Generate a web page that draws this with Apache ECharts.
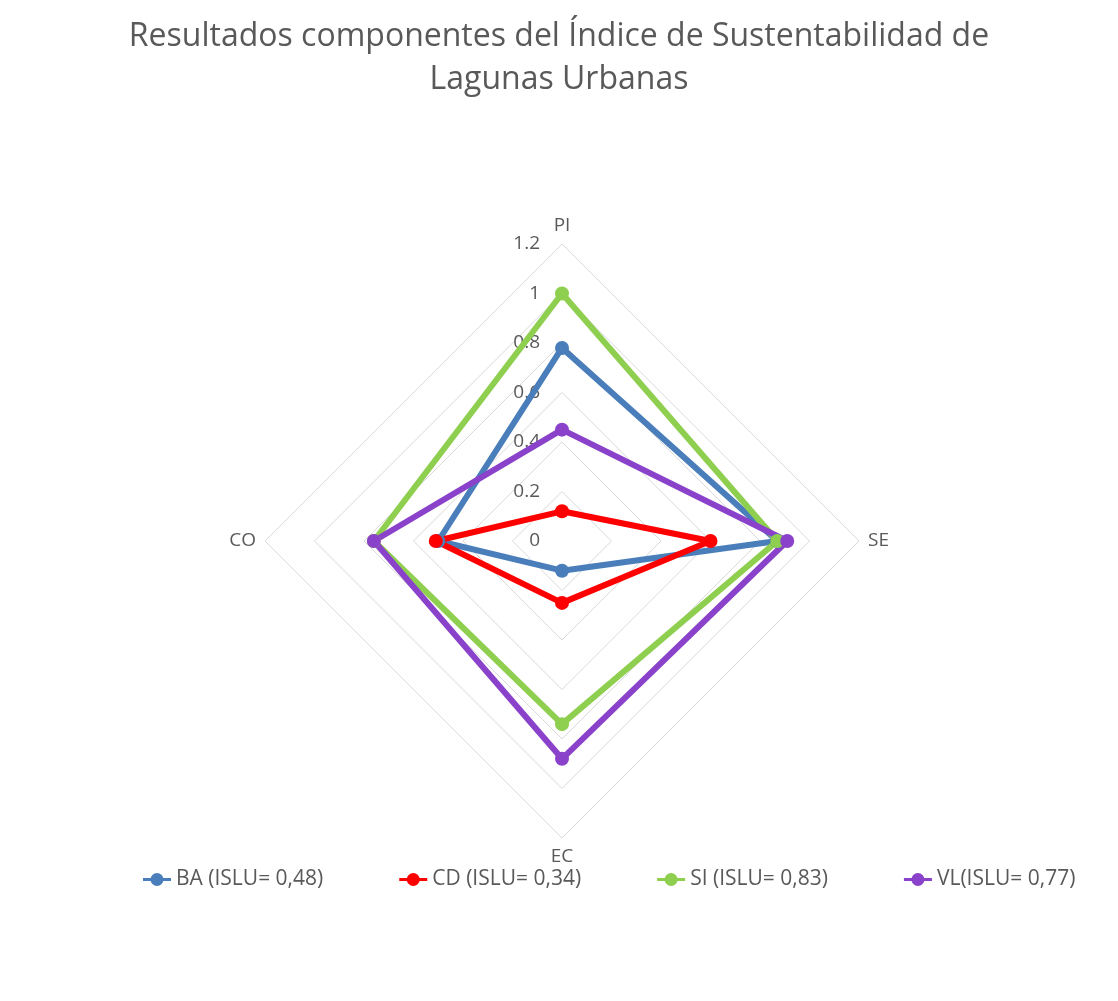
<!DOCTYPE html>
<html>
<head>
<meta charset="utf-8">
<script src="https://cdn.jsdelivr.net/npm/echarts@6/dist/echarts.min.js"></script>
<style>
  html, body { margin: 0; padding: 0; background: #fff; }
  #chart { width: 1118px; height: 1001px; }
</style>
</head>
<body>
<div id="chart"></div>
<script>
// indicators in drawing order (echarts goes counter-clockwise from the top)
const indicators = ["PI", "CO", "EC", "SE"];
const axisMax = 1.2;

const seriesNames = ["BA (ISLU= 0,48)", "CD (ISLU= 0,34)", "SI (ISLU= 0,83)", "VL(ISLU= 0,77)"];
const colors = ["#4a7ebb", "#ff0000", "#8fcf4f", "#8a42cb"];

// values per indicator: PI, CO, EC, SE
const baValues = [0.78, 0.5, 0.12, 0.87];
const cdValues = [0.12, 0.51, 0.25, 0.6];
const siValues = [1.0, 0.76, 0.74, 0.87];
const vlValues = [0.45, 0.76, 0.88, 0.91];

const allValues = [baValues, cdValues, siValues, vlValues];

const textColor = "#595959";
const fontFamily = "'Open Sans', 'Noto Sans', sans-serif";
// little line with a dot, like the excel legend key
const legendIcon = "path://M0,6.5H30V9.5H0Z M8,8A7,7,0,1,1,22,8A7,7,0,1,1,8,8Z";

const chart = echarts.init(document.getElementById("chart"));

const option = {
  backgroundColor: "#fff",
  title: {
    text: "Resultados componentes del Índice de Sustentabilidad de\nLagunas Urbanas",
    left: "center",
    top: 10,
    textStyle: {
      color: textColor,
      fontFamily: fontFamily,
      fontWeight: "normal",
      fontSize: 32,
      lineHeight: 43,
    },
  },
  legend: {
    top: 864,
    left: 138,
    itemGap: 76,
    itemWidth: 28,
    itemHeight: 15,
    icon: legendIcon,
    textStyle: { color: textColor, fontFamily: fontFamily, fontSize: 21 },
    data: seriesNames,
  },
  radar: {
    center: [562, 541],
    radius: 297,
    shape: "polygon",
    splitNumber: 6,
    startAngle: 90,
    nameGap: 9,
    axisName: { color: textColor, fontFamily: fontFamily, fontSize: 19 },
    indicator: indicators.map((name, i) => {
      const ind = { name: name, min: 0, max: axisMax };
      if (i === 0) {
        ind.axisLabel = {
          show: true,
          color: textColor,
          fontFamily: fontFamily,
          fontSize: 19,
          margin: 22,
          align: "right",
          formatter: (v) => String(Math.round(v * 10) / 10),
        };
      }
      return ind;
    }),
    axisLine: { show: false },
    axisTick: { show: false },
    axisLabel: { show: false },
    splitArea: { show: false },
    splitLine: { lineStyle: { color: "#d9d9d9", width: 1 } },
  },
  series: [
    {
      type: "radar",
      symbol: "circle",
      symbolSize: 14,
      lineStyle: { width: 6 },
      data: allValues.map((vals, i) => ({
        name: seriesNames[i],
        value: vals,
        itemStyle: { color: colors[i] },
        lineStyle: { color: colors[i], width: 6 },
      })),
    },
  ],
};

chart.setOption(option);
</script>
</body>
</html>
